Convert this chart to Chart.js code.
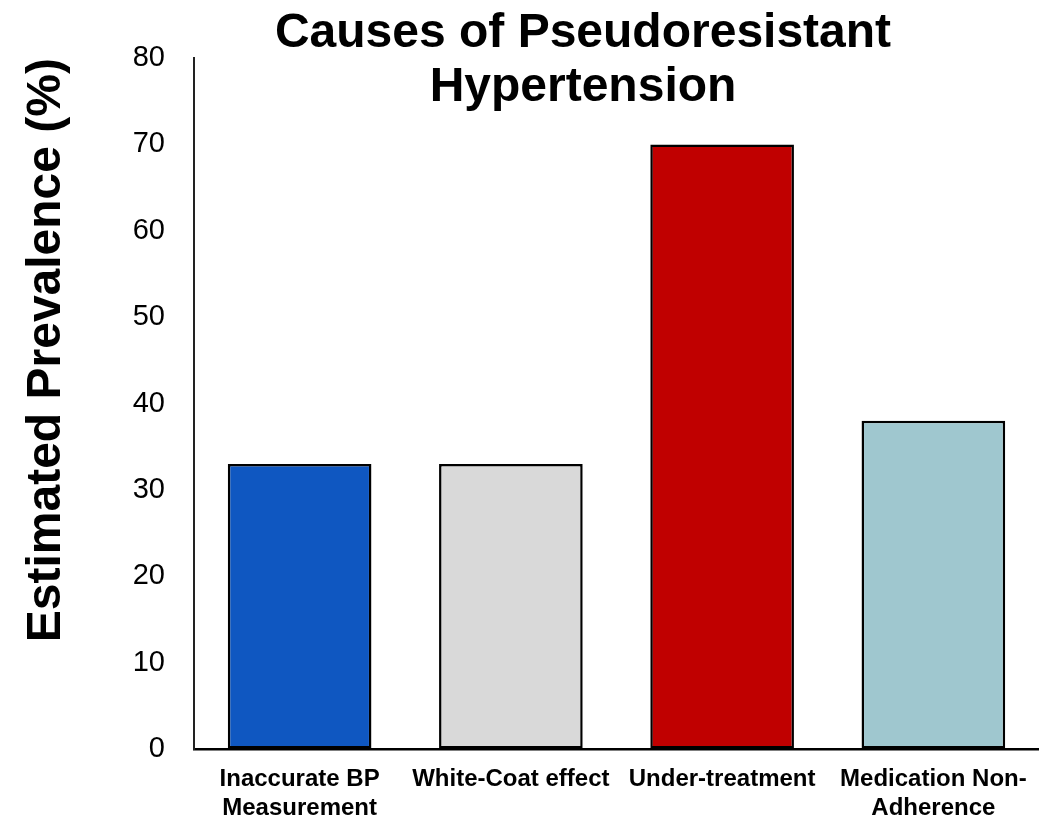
<!DOCTYPE html>
<html>
<head>
<meta charset="utf-8">
<script src="https://cdn.jsdelivr.net/npm/chart.js@4"></script>
<style>
  html, body { margin: 0; padding: 0; background: #ffffff; }
  #wrap { width: 1039px; height: 817px; }
</style>
</head>
<body>
<div id="wrap"><canvas id="chart" width="1039" height="817"></canvas></div>
<script>
const categories = [
    ['Inaccurate BP', 'Measurement'],
    'White-Coat effect',
    'Under-treatment',
    ['Medication Non-', 'Adherence']
];
const prevalence = [33, 33, 70, 38];
const barColors = ['#0F57C1', '#D9D9D9', '#C00000', '#9FC7CF'];
const titleLines = ['Causes of Pseudoresistant', 'Hypertension'];
const yTitle = 'Estimated Prevalence (%)';

const FONT = '"Liberation Sans", Arial, Helvetica, sans-serif';

// draws the two-line title over the top of the plot
const titlePlugin = {
    id: 'slideTitle',
    afterDraw(chart) {
        const ctx = chart.ctx;
        ctx.save();
        ctx.fillStyle = '#000';
        ctx.font = 'bold 48px ' + FONT;
        ctx.textAlign = 'center';
        ctx.textBaseline = 'alphabetic';
        ctx.fillText(titleLines[0], 583, 47);
        ctx.fillText(titleLines[1], 583, 101);
        ctx.restore();
    }
};

const ctx = document.getElementById('chart').getContext('2d');
new Chart(ctx, {
    type: 'bar',
    data: {
        labels: categories,
        datasets: [{
            data: prevalence,
            backgroundColor: barColors,
            borderColor: '#000',
            borderWidth: 2.5,
            borderSkipped: false,
            barPercentage: 0.68,
            categoryPercentage: 1
        }]
    },
    options: {
        responsive: false,
        animation: false,
        layout: { padding: { top: 58, right: 0, bottom: 0, left: 0 } },
        plugins: {
            legend: { display: false },
            title: { display: false },
            tooltip: { enabled: false }
        },
        scales: {
            x: {
                grid: { display: true, color: 'transparent', drawTicks: false },
                border: { display: true, color: '#000', width: 2.5 },
                ticks: {
                    color: '#000',
                    padding: 16,
                    maxRotation: 0,
                    autoSkip: false,
                    font: { family: FONT, size: 24, weight: 'bold', lineHeight: 1.2 }
                },
                afterFit(scale) {
                    scale.height = 68;
                    scale.paddingLeft = 0;
                    scale.paddingRight = 0;
                }
            },
            y: {
                min: 0,
                max: 80,
                grid: { display: true, color: 'transparent', drawTicks: false },
                border: { display: true, color: '#222', width: 2 },
                ticks: {
                    stepSize: 10,
                    color: '#000',
                    padding: 29,
                    font: { family: FONT, size: 29 }
                },
                title: {
                    display: true,
                    text: yTitle,
                    align: 'end',
                    color: '#000',
                    padding: { top: 18, bottom: 0 },
                    font: { family: FONT, size: 48, weight: 'bold', lineHeight: 1.2 }
                },
                afterFit(scale) { scale.width = 194; }
            }
        }
    },
    plugins: [titlePlugin]
});
</script>
</body>
</html>
